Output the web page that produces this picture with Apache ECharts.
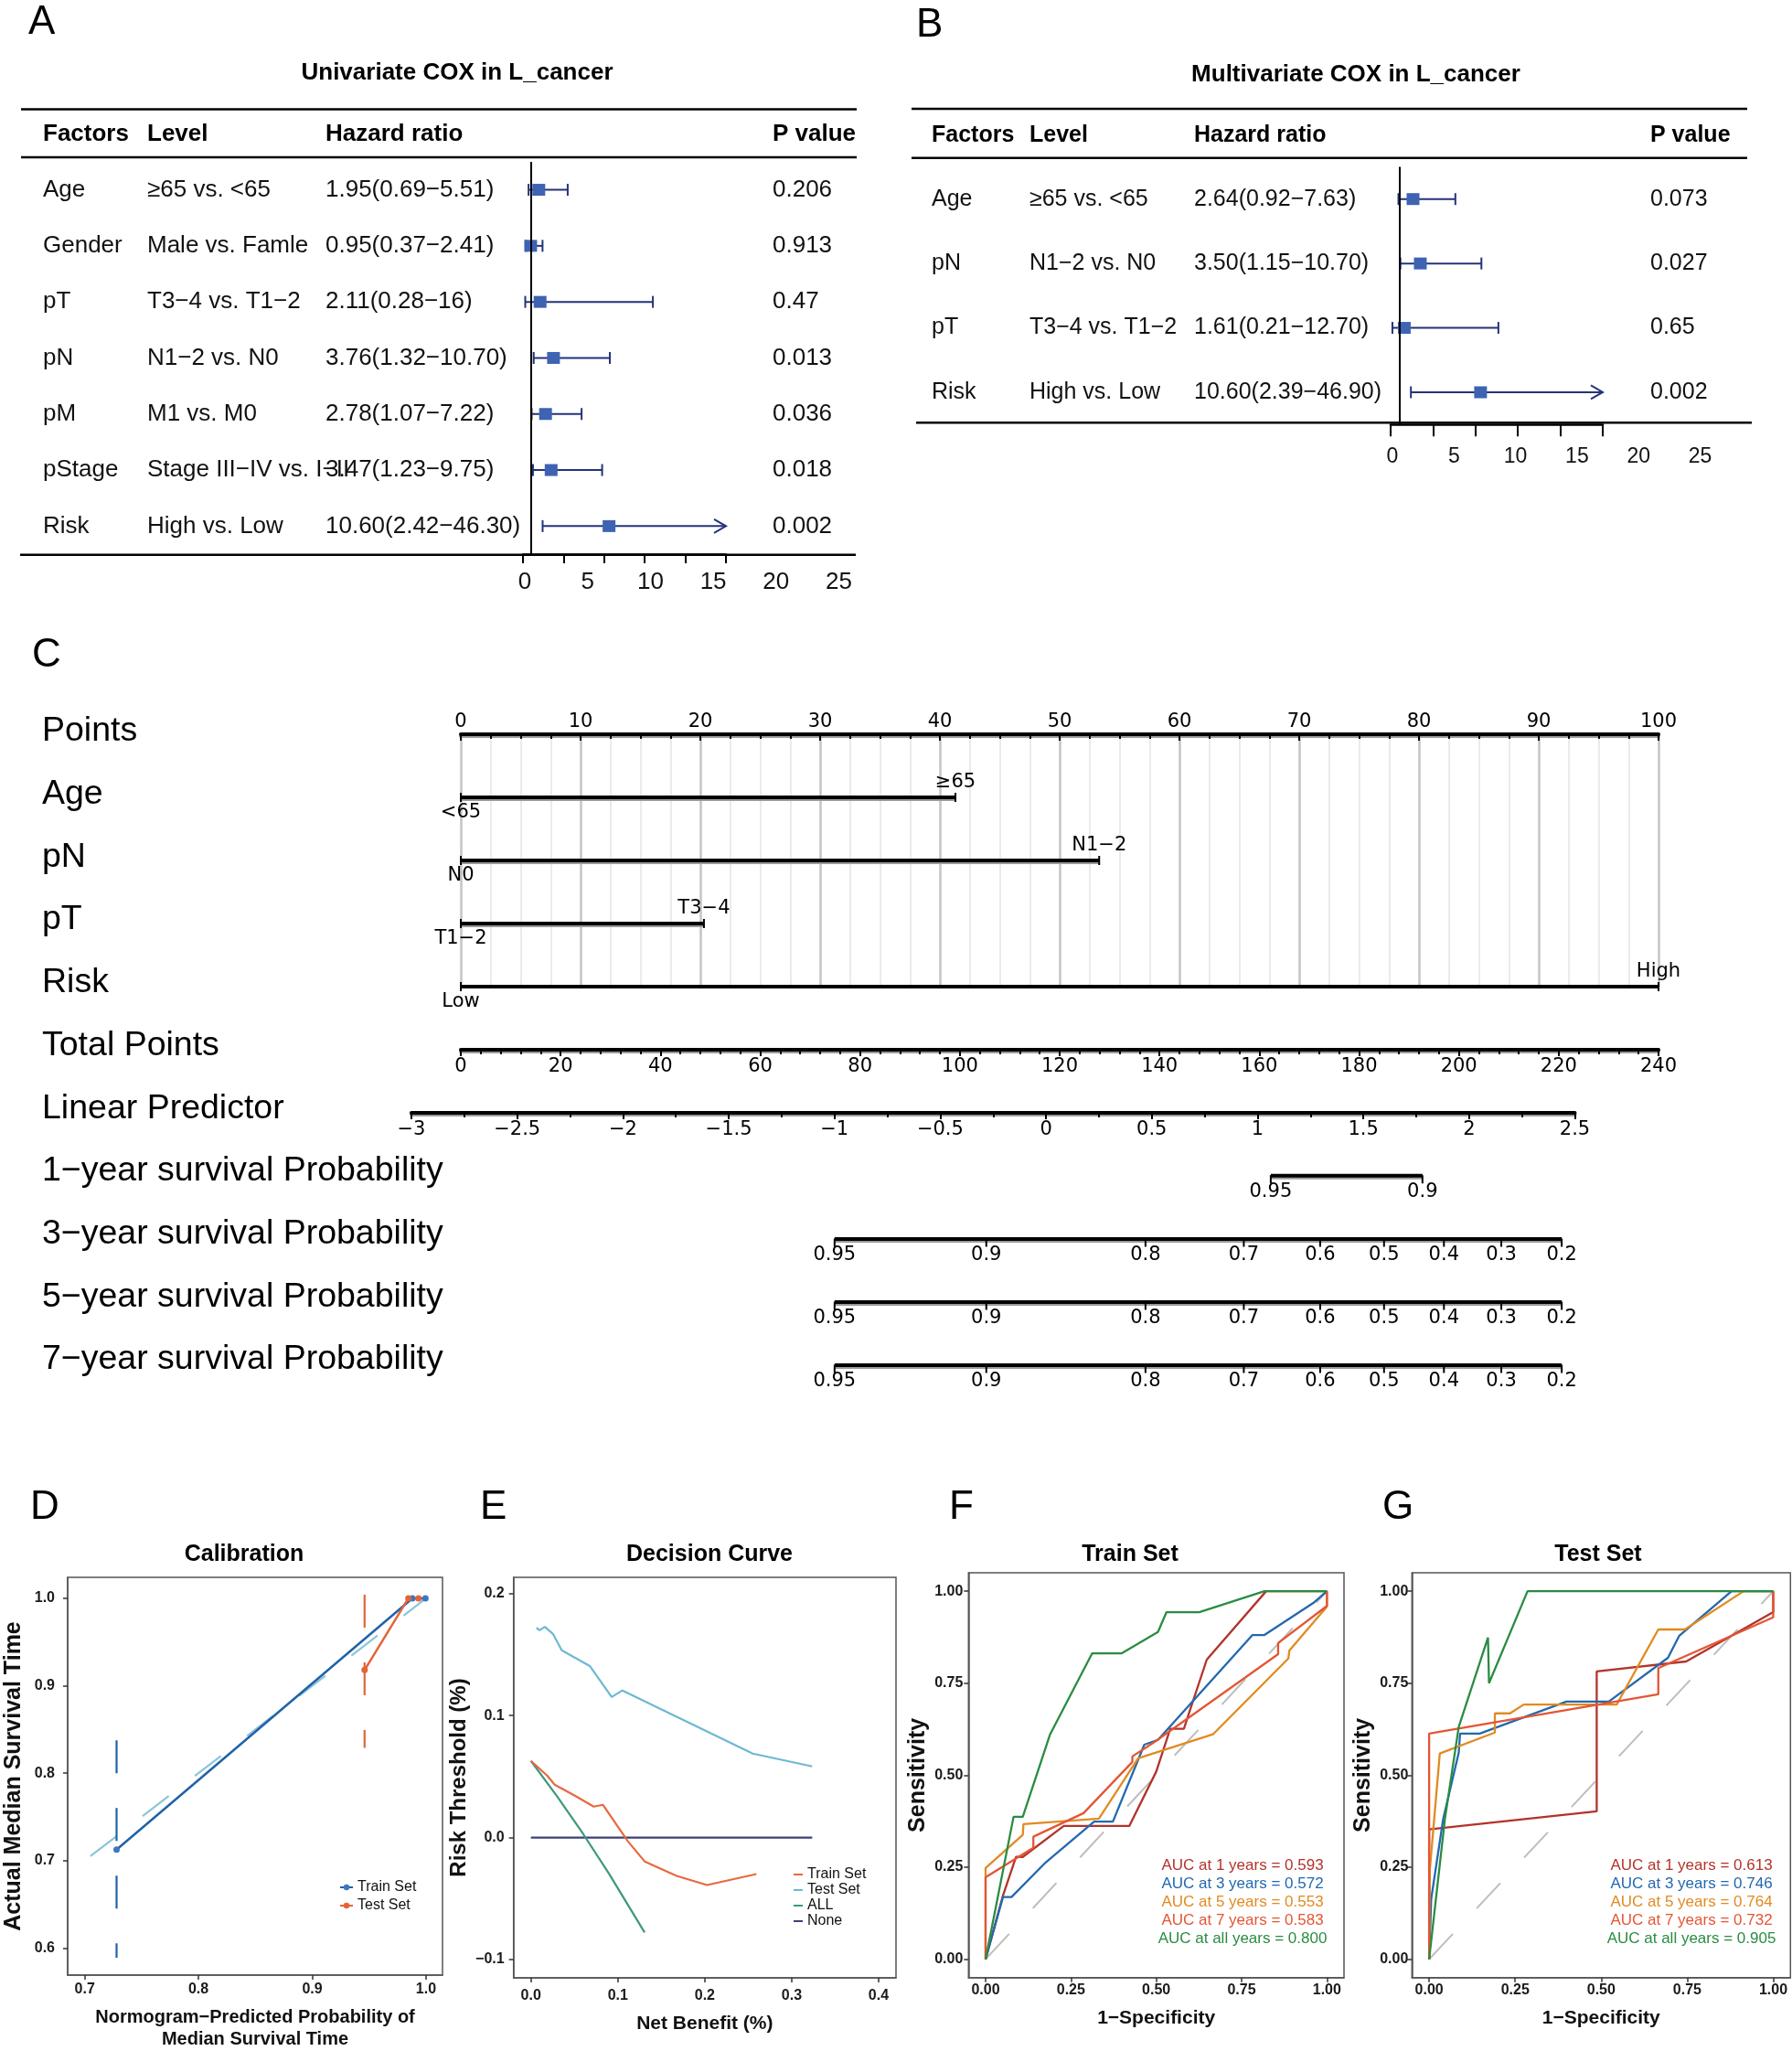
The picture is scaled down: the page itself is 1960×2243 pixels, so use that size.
<!DOCTYPE html>
<html>
<head>
<meta charset="utf-8">
<script src="https://cdn.jsdelivr.net/npm/echarts/dist/echarts.min.js"></script>
<style>
html,body{margin:0;padding:0;background:#fff}
#main{width:1960px;height:2243px}
</style>
</head>
<body>
<div id="main"></div>
<script>
/* A: univariate cox */
var uniFactors = ['Age','Gender','pT','pN','pM','pStage','Risk'];
var uniLevels = ['\u226565 vs. <65','Male vs. Famle','T3\u22124 vs. T1\u22122','N1\u22122 vs. N0','M1 vs. M0','Stage III\u2212IV vs. I\u2212II','High vs. Low'];
var uniHR = [1.95,0.95,2.11,3.76,2.78,3.47,10.60];
var uniLow = [0.69,0.37,0.28,1.32,1.07,1.23,2.42];
var uniHigh = [5.51,2.41,16,10.70,7.22,9.75,46.30];
var uniHRText = ['1.95(0.69\u22125.51)','0.95(0.37\u22122.41)','2.11(0.28\u221216)','3.76(1.32\u221210.70)','2.78(1.07\u22127.22)','3.47(1.23\u22129.75)','10.60(2.42\u221246.30)'];
var uniP = ['0.206','0.913','0.47','0.013','0.036','0.018','0.002'];

/* B: multivariate cox */
var mulFactors = ['Age','pN','pT','Risk'];
var mulLevels = ['\u226565 vs. <65','N1\u22122 vs. N0','T3\u22124 vs. T1\u22122','High vs. Low'];
var mulHR = [2.64,3.50,1.61,10.60];
var mulLow = [0.92,1.15,0.21,2.39];
var mulHigh = [7.63,10.70,12.70,46.90];
var mulHRText = ['2.64(0.92\u22127.63)','3.50(1.15\u221210.70)','1.61(0.21\u221212.70)','10.60(2.39\u221246.90)'];
var mulP = ['0.073','0.027','0.65','0.002'];
var hrMax = 25;

/* C: nomogram */
var nomoRows = ['Points','Age','pN','pT','Risk','Total Points','Linear Predictor',
  '1\u2212year survival Probability','3\u2212year survival Probability','5\u2212year survival Probability','7\u2212year survival Probability'];
var nomoVars = ['Age','pN','pT','Risk'];
var nomoVarPts = [41.3,53.3,20.3,100];
var nomoLowLab = ['<65','N0','T1\u22122','Low'];
var nomoHighLab = ['\u226565','N1\u22122','T3\u22124','High'];
var surv1Prob = [0.95,0.9];
var surv1Pts = [162.3,192.7];
var survProb = [0.95,0.9,0.8,0.7,0.6,0.5,0.4,0.3,0.2];
var surv3Pts = [74.9,105.3,137.2,156.9,172.2,185.0,197.0,208.5,220.6];
var surv5Pts = [74.9,105.3,137.2,156.9,172.2,185.0,197.0,208.5,220.6];
var surv7Pts = [74.9,105.3,137.2,156.9,172.2,185.0,197.0,208.5,220.6];

/* D: calibration */
var calTrain = [[0.728,0.7125],[0.988,1.0],[0.9995,1.0]];
var calTest = [[0.946,0.918],[0.9845,1.0],[0.9934,1.0]];
var calTrainBar = [0.8375,0.589];
var calTestBar = [1.004,0.829];
var calIdeal = [[0.705,0.705],[1.0,1.0]];
var calTicksX = [0.7,0.8,0.9,1.0];
var calTicksY = [0.6,0.7,0.8,0.9,1.0];

/* E: decision curve */
var dcaTrain = [[0,0.0629],[0.0186,0.0509],[0.0273,0.0434],[0.0519,0.0338],[0.0722,0.0254],[0.0827,0.0269],[0.1115,-0.003],[0.1308,-0.0195],[0.1676,-0.0314],[0.2026,-0.0389],[0.2594,-0.0299]];
var dcaTest = [[0.0063,0.172],[0.0098,0.170],[0.0161,0.1728],[0.0256,0.1668],[0.0354,0.1536],[0.0677,0.1407],[0.0929,0.1153],[0.1052,0.1207],[0.2552,0.0689],[0.3236,0.0584]];
var dcaAll = [[0,0.0629],[0.03,0.0339],[0.06,0.0031],[0.09,-0.0298],[0.1308,-0.0778]];
var dcaNone = [[0,0],[0.3236,0]];
var dcaTicksX = [0,0.1,0.2,0.3,0.4];
var dcaTicksY = [-0.1,0,0.1,0.2];

/* F, G: time ROC */
var rocYears = ['1','3','5','7','all'];
var aucTrain = [0.593,0.572,0.553,0.583,0.800];
var aucTest = [0.613,0.746,0.764,0.732,0.905];
var trainRoc1 = [[0,0],[0.05,0.17],[0.089,0.278],[0.109,0.278],[0.229,0.362],[0.421,0.362],[0.50,0.51],[0.541,0.626],[0.581,0.626],[0.60,0.68],[0.648,0.814],[0.822,1],[1,1]];
var trainRoc3 = [[0,0],[0.051,0.169],[0.076,0.169],[0.176,0.263],[0.318,0.374],[0.373,0.374],[0.465,0.583],[0.505,0.596],[0.782,0.881],[0.817,0.881],[0.96,0.968],[1,1]];
var trainRoc5 = [[0,0],[0,0.248],[0.109,0.338],[0.111,0.367],[0.332,0.382],[0.447,0.546],[0.666,0.611],[0.887,0.817],[0.89,0.839],[1,0.958],[1,1]];
var trainRoc7 = [[0,0],[0,0.223],[0.14,0.303],[0.14,0.333],[0.287,0.397],[0.43,0.536],[0.43,0.551],[0.496,0.591],[0.857,0.829],[0.857,0.859],[1,0.96],[1,1]];
var trainRocAll = [[0,0],[0.082,0.387],[0.109,0.387],[0.189,0.611],[0.312,0.831],[0.398,0.831],[0.505,0.889],[0.53,0.943],[0.626,0.943],[0.817,1],[1,1]];
var testRoc1 = [[0,0],[0,0.353],[0.487,0.402],[0.487,0.782],[0.747,0.809],[1,0.943],[1,1]];
var testRoc3 = [[0,0],[0.006,0.164],[0.041,0.382],[0.086,0.561],[0.09,0.613],[0.147,0.613],[0.399,0.70],[0.522,0.70],[0.694,0.819],[0.727,0.879],[0.879,1],[1,1]];
var testRoc5 = [[0,0],[0.002,0.243],[0.031,0.559],[0.191,0.616],[0.191,0.668],[0.235,0.668],[0.275,0.692],[0.545,0.692],[0.666,0.896],[0.743,0.896],[0.914,1],[1,1]];
var testRoc7 = [[0,0],[0,0.613],[0.666,0.72],[0.666,0.791],[1,0.929],[1,1]];
var testRocAll = [[0,0],[0.046,0.382],[0.086,0.631],[0.171,0.874],[0.174,0.75],[0.286,1],[1,1]];
var rocTicks = [0,0.25,0.5,0.75,1];

var FONT = '"Liberation Sans", Arial, sans-serif';
var NFONT = '"DejaVu Sans", sans-serif';
var rocColors = ['#B2332B','#2368AF','#E18B22','#E45535','#2A8C42'];

var grid = [], xAxis = [], yAxis = [], series = [], graphic = [], legend = [];

function txt(x, y, s, font, align, color) {
  graphic.push({type:'text', x:x, y:y, silent:true,
    style:{text:s, font:font, fill:color || '#000', textAlign:align || 'left', textVerticalAlign:'middle', align:align || 'left', verticalAlign:'middle'}});
}
function hline(x1, x2, y, w) {
  graphic.push({type:'line', silent:true, shape:{x1:x1, y1:y, x2:x2, y2:y}, style:{stroke:'#000', lineWidth:w || 2.5}});
}

// 森林图的误差线+方块
function renderForest(params, api) {
  var hr = api.value(0), row = api.value(1), lo = api.value(2), hi = api.value(3);
  var pL = api.coord([lo, row]);
  var pR = api.coord([Math.min(hi, hrMax), row]);
  var pB = api.coord([hr, row]);
  var st = {stroke:'#24337A', lineWidth:2, fill:null};
  var ch = [];
  ch.push({type:'line', shape:{x1:pL[0], y1:pL[1], x2:pR[0], y2:pR[1]}, style:st});
  ch.push({type:'line', shape:{x1:pL[0], y1:pL[1]-6.5, x2:pL[0], y2:pL[1]+6.5}, style:st});
  if (hi > hrMax) {
    ch.push({type:'polyline', shape:{points:[[pR[0]-13, pR[1]-7.5],[pR[0], pR[1]],[pR[0]-13, pR[1]+7.5]]}, style:st});
  } else {
    ch.push({type:'line', shape:{x1:pR[0], y1:pR[1]-6.5, x2:pR[0], y2:pR[1]+6.5}, style:st});
  }
  ch.push({type:'rect', shape:{x:pB[0]-7, y:pB[1]-6.5, width:14, height:13}, style:{fill:'#3E63B3'}});
  return {type:'group', children:ch};
}

function forestPanel(c) {
  var gi = grid.length;
  grid.push({left:c.left, top:c.top, width:c.width, height:c.height});
  var xi = xAxis.length;
  xAxis.push({gridIndex:gi, type:'value', min:0, max:hrMax, interval:5,
    axisLine:{show:true, onZero:false, lineStyle:{color:'#000', width:2.5}},
    axisTick:{show:true, length:c.tickLen, lineStyle:{color:'#000', width:2}},
    axisLabel:{show:false}, splitLine:{show:false}});
  var yi = yAxis.length;
  function col(data, pos, margin) {
    yAxis.push({gridIndex:gi, type:'category', data:data, inverse:true, position:pos,
      axisLine:{show:false}, axisTick:{show:false}, splitLine:{show:false},
      axisLabel:{interval:0, margin:margin, align:'left', fontSize:c.fs, fontFamily:FONT, color:'#111'}});
  }
  col(c.factors, 'left', c.left - c.colF);
  col(c.levels, 'left', c.left - c.colL);
  col(c.hrText, 'left', c.left - c.colH);
  col(c.p, 'right', c.colP - c.left - c.width);
  series.push({type:'custom', xAxisIndex:xi, yAxisIndex:yi, clip:false, renderItem:renderForest,
    encode:{x:0, y:1},
    data:c.factors.map(function (f, i) { return [c.hr[i], i, c.lo[i], c.hi[i]]; })});
  series.push({type:'line', xAxisIndex:xi, yAxisIndex:yi, data:[],
    markLine:{silent:true, symbol:'none', label:{show:false}, lineStyle:{color:'#000', width:2, type:'solid'}, data:[{xAxis:1}]}});
  // 刻度文字单独一个更宽的坐标系
  var gl = grid.length;
  grid.push({left:c.lblLeft, top:c.top, width:c.lblWidth, height:c.height});
  xAxis.push({gridIndex:gl, type:'value', min:0, max:hrMax, interval:5,
    axisLine:{show:false, onZero:false}, axisTick:{show:false}, splitLine:{show:false},
    axisLabel:{margin:c.lblMargin, fontSize:c.lblFs, fontFamily:FONT, color:'#111'}});
  yAxis.push({gridIndex:gl, type:'value', show:false});
}

/* ---- panel A ---- */
txt(31, 25, 'A', '44px ' + FONT);
txt(500, 80, 'Univariate COX in L_cancer', 'bold 26px ' + FONT, 'center');
hline(23, 937, 119.5); hline(23, 937, 172); hline(22, 936, 606.7);
txt(47, 146.7, 'Factors', 'bold 26px ' + FONT);
txt(161, 146.7, 'Level', 'bold 26px ' + FONT);
txt(356, 146.7, 'Hazard ratio', 'bold 26px ' + FONT);
txt(845, 146.7, 'P value', 'bold 26px ' + FONT);
forestPanel({left:572, top:176.9, width:222, height:429.1, tickLen:10,
  colF:47, colL:161, colH:356, colP:845, fs:26,
  lblLeft:574, lblWidth:343.5, lblMargin:18, lblFs:26,
  factors:uniFactors, levels:uniLevels, hrText:uniHRText, p:uniP, hr:uniHR, lo:uniLow, hi:uniHigh});

/* ---- panel B ---- */
txt(1002, 27.5, 'B', '44px ' + FONT);
txt(1483, 82, 'Multivariate COX in L_cancer', 'bold 26px ' + FONT, 'center');
hline(997, 1911, 119); hline(997, 1911, 172.7); hline(1002, 1916, 462.3);
txt(1019, 147.7, 'Factors', 'bold 25px ' + FONT);
txt(1126, 147.7, 'Level', 'bold 25px ' + FONT);
txt(1306, 147.7, 'Hazard ratio', 'bold 25px ' + FONT);
txt(1805, 147.7, 'P value', 'bold 25px ' + FONT);
forestPanel({left:1521, top:182.5, width:232, height:281.7, tickLen:13,
  colF:1019, colL:1126, colH:1306, colP:1805, fs:25,
  lblLeft:1523, lblWidth:336.5, lblMargin:24, lblFs:23,
  factors:mulFactors, levels:mulLevels, hrText:mulHRText, p:mulP, hr:mulHR, lo:mulLow, hi:mulHigh});

/* ---- panel C: nomogram ---- */
txt(35, 717, 'C', '44px ' + FONT);
var thick = {color:'#000', width:4, shadowColor:'#9a9a9a', shadowOffsetY:2};
var tickFont = {fontSize:21, fontFamily:NFONT, color:'#000'};

// 行名
var gR = grid.length;
grid.push({left:504, top:800, width:1310, height:687});
xAxis.push({gridIndex:gR, type:'value', show:false, min:0, max:1});
yAxis.push({gridIndex:gR, type:'category', data:nomoRows, inverse:true, boundaryGap:false,
  axisLine:{show:false}, axisTick:{show:false}, splitLine:{show:false},
  axisLabel:{interval:0, margin:458, align:'left', fontSize:37.5, fontFamily:FONT, color:'#000'}});

// Points 轴 + 各变量
var gP = grid.length;
grid.push({left:504, top:803, width:1310, height:276});
var xP = xAxis.length;
xAxis.push({gridIndex:gP, type:'value', position:'top', min:0, max:100, interval:10,
  axisLine:{show:true, onZero:false, lineStyle:thick},
  axisTick:{show:true, inside:true, length:7, lineStyle:{color:'#000', width:2}},
  minorTick:{show:true, splitNumber:4, length:5, lineStyle:{color:'#000', width:2}},
  axisLabel:Object.assign({margin:3}, tickFont),
  splitLine:{show:true, lineStyle:{color:'#c4c4c4', width:2.5}},
  minorSplitLine:{show:true, lineStyle:{color:'#ebebeb', width:2}}});
var yP = yAxis.length;
yAxis.push({gridIndex:gP, type:'category', data:['Points'].concat(nomoVars), inverse:true, boundaryGap:false, show:false});
nomoVars.forEach(function (v, i) {
  series.push({type:'line', xAxisIndex:xP, yAxisIndex:yP, symbol:'rect', symbolSize:[2,10],
    lineStyle:thick, itemStyle:{color:'#000'},
    label:Object.assign({show:true, distance:1}, tickFont),
    data:[
      {value:[0, v], label:{position:'bottom', formatter:nomoLowLab[i]}},
      {value:[nomoVarPts[i], v], label:{position:'top', formatter:nomoHighLab[i]}}
    ]});
});

// Total Points
var gT = grid.length;
grid.push({left:504, top:1108, width:1310, height:40});
xAxis.push({gridIndex:gT, type:'value', min:0, max:240, interval:20,
  axisLine:{show:true, onZero:false, lineStyle:thick},
  axisTick:{show:true, length:7, lineStyle:{color:'#000', width:2}},
  minorTick:{show:true, splitNumber:5, length:5, lineStyle:{color:'#000', width:2}},
  axisLabel:Object.assign({margin:8}, tickFont), splitLine:{show:false}});
yAxis.push({gridIndex:gT, type:'value', show:false, min:0, max:1});

// Linear Predictor
var gL = grid.length;
grid.push({left:450, top:1177, width:1272.5, height:40});
xAxis.push({gridIndex:gL, type:'value', min:-3, max:2.5, interval:0.5,
  axisLine:{show:true, onZero:false, lineStyle:thick},
  axisTick:{show:true, length:7, lineStyle:{color:'#000', width:2}},
  minorTick:{show:true, splitNumber:2, length:5, lineStyle:{color:'#000', width:2}},
  axisLabel:Object.assign({margin:8, formatter:function (v) { return (v < 0 ? '\u2212' : '') + Math.abs(v); }}, tickFont),
  splitLine:{show:false}});
yAxis.push({gridIndex:gL, type:'value', show:false, min:0, max:1});

// 生存概率轴
function survRow(yLine, pts, probs) {
  var gi = grid.length;
  grid.push({left:504, top:yLine - 20, width:1310, height:40});
  var xi = xAxis.length, yi = yAxis.length;
  xAxis.push({gridIndex:gi, type:'value', show:false, min:0, max:240});
  yAxis.push({gridIndex:gi, type:'value', show:false, min:-1, max:1});
  series.push({type:'line', xAxisIndex:xi, yAxisIndex:yi, symbol:'rect', symbolSize:[2,9], symbolOffset:[0,4],
    lineStyle:thick, itemStyle:{color:'#000'},
    label:Object.assign({show:true, position:'bottom', distance:-1}, tickFont),
    data:pts.map(function (p, i) { return {value:[p, 0], label:{formatter:String(probs[i])}}; })});
}
survRow(1285.7, surv1Pts, surv1Prob);
survRow(1355, surv3Pts, survProb);
survRow(1424, surv5Pts, survProb);
survRow(1493, surv7Pts, survProb);

/* ---- D, E, F, G ---- */
function boxAxis(gi, min, max, ticks, fmt, margin, name, nameGap, nameFs) {
  return {gridIndex:gi, type:'value', min:min, max:max,
    axisLine:{show:true, onZero:false, lineStyle:{color:'#555', width:1.5}},
    axisTick:{show:true, customValues:ticks, length:5, lineStyle:{color:'#333', width:1.5}},
    axisLabel:{customValues:ticks, formatter:fmt, margin:margin, fontSize:16, fontWeight:'bold', fontFamily:FONT, color:'#1a1a1a'},
    splitLine:{show:false},
    name:name, nameLocation:'middle', nameGap:nameGap,
    nameTextStyle:{fontSize:nameFs, fontWeight:'bold', fontFamily:FONT, color:'#111', lineHeight:nameFs + 4}};
}
function boxGrid(l, t, w, h) {
  grid.push({left:l, top:t, width:w, height:h, show:true, borderColor:'#555', borderWidth:1.5});
  return grid.length - 1;
}
function fmt1(v) { return (v < 0 ? '\u2212' : '') + Math.abs(v).toFixed(1); }
function fmt2(v) { return v.toFixed(2); }
function plain(xi, yi, name, data, color, width, dash) {
  return {type:'line', name:name, xAxisIndex:xi, yAxisIndex:yi, data:data, symbol:'none',
    lineStyle:{color:color, width:width, type:dash || 'solid'}, itemStyle:{color:color}};
}

// D 校准曲线
txt(33, 1649, 'D', '44px ' + FONT);
txt(267, 1700, 'Calibration', 'bold 25px ' + FONT, 'center');
var gD = boxGrid(68, 1725, 416, 437);
var xD = xAxis.length, yD = yAxis.length;
xAxis.push(boxAxis(gD, 0.685, 1.0145, calTicksX, fmt1, 8, 'Normogram\u2212Predicted Probability of\nMedian Survival Time', 34, 20));
yAxis.push(boxAxis(gD, 0.569, 1.024, calTicksY, fmt1, 14, 'Actual Median Survival Time', 44, 25));
series.push(plain(xD, yD, 'ideal', calIdeal, '#8CC5DA', 2.2, [36,36]));
series.push(plain(xD, yD, 'trainBar', [[calTrain[0][0], calTrainBar[0]],[calTrain[0][0], calTrainBar[1]]], '#1F62A8', 2.2, [36,38]));
series.push(plain(xD, yD, 'testBar', [[calTest[0][0], calTestBar[0]],[calTest[0][0], calTestBar[1]]], '#E4643A', 2.2, [36,38]));
series.push({type:'line', name:'Train Set', xAxisIndex:xD, yAxisIndex:yD, data:calTrain, symbol:'circle', symbolSize:7,
  lineStyle:{color:'#1F62A8', width:2.5}, itemStyle:{color:'#3A78C0'}});
series.push({type:'line', name:'Test Set', xAxisIndex:xD, yAxisIndex:yD, data:calTest, symbol:'circle', symbolSize:7,
  lineStyle:{color:'#E4643A', width:2.5}, itemStyle:{color:'#E4643A'}});
legend.push({left:371, top:2056, orient:'vertical', data:['Train Set','Test Set'], itemWidth:14, itemHeight:8, itemGap:4, padding:0,
  textStyle:{fontSize:16, fontFamily:FONT, color:'#111'}});

// E 决策曲线
txt(525, 1649, 'E', '44px ' + FONT);
txt(776, 1700, 'Decision Curve', 'bold 25px ' + FONT, 'center');
var gE = boxGrid(561.7, 1725, 418.3, 438);
var xE = xAxis.length, yE = yAxis.length;
xAxis.push(boxAxis(gE, -0.02, 0.42, dcaTicksX, fmt1, 12, 'Net Benefit (%)', 38, 21));
yAxis.push(boxAxis(gE, -0.115, 0.2134, dcaTicksY, fmt1, 10, 'Risk Threshold (%)', 38, 24));
series.push(plain(xE, yE, 'None', dcaNone, '#3D3F78', 2.2));
series.push(plain(xE, yE, 'ALL', dcaAll, '#3C9A78', 2.2));
series.push(plain(xE, yE, 'Test Set ', dcaTest, '#6DB8D3', 2.2));
series.push(plain(xE, yE, 'Train Set ', dcaTrain, '#E8683F', 2.2));
legend.push({left:868, top:2042, orient:'vertical', data:['Train Set ','Test Set ','ALL','None'], icon:'rect',
  itemWidth:10, itemHeight:2, itemGap:1, padding:0,
  formatter:function (n) { return n.trim(); },
  textStyle:{fontSize:16, fontFamily:FONT, color:'#111'}});

// F, G 时间ROC
function rocPanel(c) {
  txt(c.letterX, 1649, c.letter, '44px ' + FONT);
  txt(c.titleX, 1700, c.title, 'bold 25px ' + FONT, 'center');
  var gi = boxGrid(c.left, 1720, c.width, 442.8);
  var xi = xAxis.length, yi = yAxis.length;
  xAxis.push(boxAxis(gi, -0.05, 1.05, rocTicks, fmt2, 6, '1\u2212Specificity', 32, 21));
  yAxis.push(boxAxis(gi, -0.05, 1.05, rocTicks, fmt2, c.yMargin, 'Sensitivity', c.yGap, 25));
  series.push(plain(xi, yi, c.letter + ' ref', [[0,0],[1,1]], '#BDBDBD', 2, [38,38]));
  c.curves.forEach(function (d, i) {
    series.push(plain(xi, yi, c.letter + ' ' + rocYears[i], d, rocColors[i], 2.3));
    var lab = 'AUC at ' + rocYears[i] + ' years = ' + c.auc[i].toFixed(3);
    txt(c.aucX, 2040 + 20 * i, lab, '17px ' + FONT, 'center', rocColors[i]);
  });
}
rocPanel({letter:'F', letterX:1038, title:'Train Set', titleX:1236, left:1059.3, width:410.7, yMargin:6, yGap:36,
  aucX:1359, auc:aucTrain, curves:[trainRoc1, trainRoc3, trainRoc5, trainRoc7, trainRocAll]});
rocPanel({letter:'G', letterX:1512, title:'Test Set', titleX:1748, left:1544.3, width:414, yMargin:4, yGap:34,
  aucX:1850, auc:aucTest, curves:[testRoc1, testRoc3, testRoc5, testRoc7, testRocAll]});

var chart = echarts.init(document.getElementById('main'));
chart.setOption({
  animation:false,
  backgroundColor:'#fff',
  grid:grid, xAxis:xAxis, yAxis:yAxis, series:series, legend:legend,
  graphic:{elements:graphic}
});
</script>
</body>
</html>
